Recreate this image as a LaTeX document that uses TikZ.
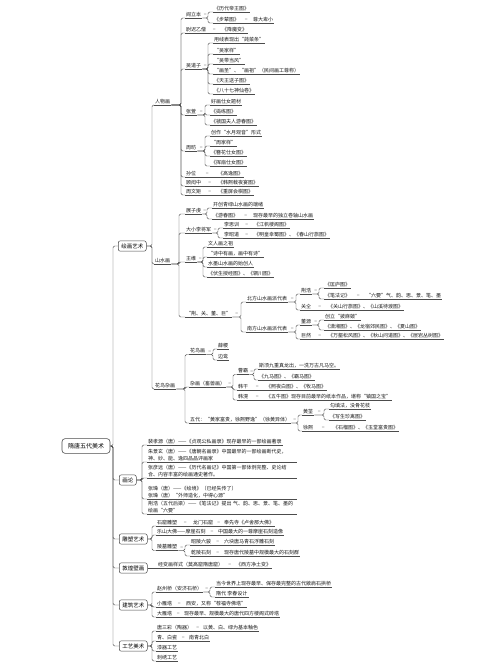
\documentclass[tikz,border=0pt]{standalone}
\usepackage{fontspec}
\setmainfont{Noto Sans CJK SC}
\usetikzlibrary{calc}
\newcommand{\mmL}[4]{\node[lf] (#1) at (#2,#3+4) {#4};}
\newcommand{\mmT}[4]{\node[lftwo] (#1) at (#2,#3) {#4};}
\newcommand{\mmE}[2]{\draw[cn] (#1.south east) -- (#2.south west) node[midway,yshift=2.6pt,eq]{=};}
\newcommand{\mmB}[3]{\draw[cn] (#1.south east) -- (#1.south east -| #3,0) |- (#2.south west);}
\newcommand{\mmQ}[2]{\path (#1.south east) -- (#1.south east -| #2,0) node[midway,yshift=2.6pt,eq]{=};}
\newcommand{\mmX}[3]{\draw[cn] (#1.east) -- (#1.east -| #3,0) |- (#2.south west);}
\begin{document}
\begin{tikzpicture}[x=1pt,y=-1pt,
  ulin/.style={draw=black!70, line width=0.45pt},
  lf/.style={anchor=south west, inner xsep=1pt, inner ysep=1pt,
    font=\fontsize{5}{7}\selectfont, text=black!90,
    append after command={(\tikzlastnode.south west) edge[ulin] (\tikzlastnode.south east)}},
  lftwo/.style={lf, align=left, text width=148pt},
  cn/.style={draw=black!70, line width=0.45pt, rounded corners=1.5pt},
  eq/.style={font=\fontsize{5}{5}\selectfont, text=black!40, inner sep=0pt},
  topbox/.style={draw=black!70, rounded corners=2pt, fill=white, anchor=west,
    font=\fontsize{5.5}{6}\selectfont, inner xsep=3pt, inner ysep=2.6pt, line width=0.5pt},
  rootbox/.style={draw=black!70, rounded corners=3pt, fill=white,
    font=\fontsize{6}{7}\selectfont, inner xsep=6pt, inner ysep=4.5pt, line width=0.6pt}]
\useasboundingbox (0,0) rectangle (500,665);
\fill[white] (0,0) rectangle (500,665);

% root and first level
\node[rootbox] (root) at (86,446) {隋唐五代美术};
\node[topbox] (b1) at (118,246) {绘画艺术};
\node[topbox] (b2) at (119,480) {画论};
\node[topbox] (b3) at (119,539) {雕塑艺术};
\node[topbox] (b4) at (119,568) {敦煌壁画};
\node[topbox] (b5) at (119,605) {建筑艺术};
\node[topbox] (b6) at (119,646) {工艺美术};
\foreach \b in {b1,b2,b3,b4,b5,b6}
  {\draw[cn] (root.east) -- (root.east -| 113,0) |- (\b.west);}

% ===== 绘画艺术
\mmL{rwh}{154}{101}{人物画}
\mmL{ssh}{154}{260}{山水画}
\mmL{hnz}{154}{385}{花鸟杂画}
\foreach \c in {rwh,ssh,hnz} {\mmX{b1}{\c}{152}}

% 人物画
\mmL{ylb}{185}{14}{阎立本}
\mmL{ylbA}{213}{8}{《历代帝王图》}
\mmL{ylbB}{213}{19}{《步辇图》}
\mmL{ylbBa}{252}{19}{尊大卑小}
\mmL{ycys}{185}{29}{尉迟乙僧}
\mmL{ycysA}{221}{29}{《降魔变》}
\mmL{wdz}{185}{65}{吴道子}
\mmL{wdzA}{213}{39}{用线表现出“莼菜条”}
\mmL{wdzB}{213}{50}{“吴家样”}
\mmL{wdzC}{213}{60}{“吴带当风”}
\mmL{wdzD}{213}{70}{“画圣”、“画祖”（民间画工尊称）}
\mmL{wdzE}{213}{80}{《天王送子图》}
\mmL{wdzF}{213}{90}{《八十七神仙卷》}
\mmL{zx}{185}{111}{张萱}
\mmL{zxA}{210}{101}{好画仕女题材}
\mmL{zxB}{210}{111}{《捣练图》}
\mmL{zxC}{210}{121}{《虢国夫人游春图》}
\mmL{zf}{185}{147}{周昉}
\mmL{zfA}{210}{132}{创作“水月观音”形式}
\mmL{zfB}{210}{142}{“周家样”}
\mmL{zfC}{210}{152}{《簪花仕女图》}
\mmL{zfD}{210}{162}{《挥扇仕女图》}
\mmL{sw}{185}{173}{孙位}
\mmL{swA}{217}{173}{《高逸图》}
\mmL{ghz}{185}{182}{顾闳中}
\mmL{ghzA}{217}{182}{《韩熙载夜宴图》}
\mmL{zwj}{185}{191}{周文矩}
\mmL{zwjA}{217}{191}{《重屏会棋图》}
\foreach \c in {ylb,ycys,wdz,zx,zf,sw,ghz,zwj} {\mmB{rwh}{\c}{181}}
\mmQ{ylb}{208}
\foreach \c in {ylbA,ylbB} {\mmB{ylb}{\c}{208}}
\mmE{ylbB}{ylbBa}
\mmE{ycys}{ycysA}
\mmQ{wdz}{208}
\foreach \c in {wdzA,wdzB,wdzC,wdzD,wdzE,wdzF} {\mmB{wdz}{\c}{208}}
\mmQ{zx}{205}
\foreach \c in {zxA,zxB,zxC} {\mmB{zx}{\c}{205}}
\mmQ{zf}{205}
\foreach \c in {zfA,zfB,zfC,zfD} {\mmB{zf}{\c}{205}}
\mmE{sw}{swA}
\mmE{ghz}{ghzA}
\mmE{zwj}{zwjA}

% 山水画
\mmL{zzq}{185}{210}{展子虔}
\mmL{zzqA}{212}{204}{开创青绿山水画的端绪}
\mmL{zzqB}{212}{215}{《游春图》}
\mmL{zzqBa}{252}{215}{现存最早的独立卷轴山水画}
\mmL{dxl}{185}{229}{大小李将军}
\mmL{lsx}{223}{224}{李思训}
\mmL{lsxA}{253}{224}{《江帆楼阁图》}
\mmL{lzd}{223}{234}{李昭道}
\mmL{lzdA}{253}{234}{《明皇幸蜀图》、《春山行旅图》}
\mmL{ww}{185}{258}{王维}
\mmL{wwA}{207}{243}{文人画之祖}
\mmL{wwB}{207}{253}{“诗中有画，画中有诗”}
\mmL{wwC}{207}{263}{水墨山水画的始创人}
\mmL{wwD}{207}{273}{《伏生授经图》、《辋川图》}
\mmL{jg}{185}{313}{“荆、关、董、巨”}
\foreach \c in {zzq,dxl,ww,jg} {\mmB{ssh}{\c}{179}}
\mmQ{zzq}{207}
\foreach \c in {zzqA,zzqB} {\mmB{zzq}{\c}{207}}
\mmE{zzqB}{zzqBa}
\mmQ{dxl}{218}
\foreach \c in {lsx,lzd} {\mmB{dxl}{\c}{218}}
\mmE{lsx}{lsxA}
\mmE{lzd}{lzdA}
\mmQ{ww}{203}
\foreach \c in {wwA,wwB,wwC,wwD} {\mmB{ww}{\c}{203}}

\mmL{bf}{246}{298}{北方山水画派代表}
\mmL{nf}{246}{328}{南方山水画派代表}
\mmQ{jg}{241}
\foreach \c in {bf,nf} {\mmB{jg}{\c}{241}}
\mmL{jh}{300}{290}{荆浩}
\mmL{jhA}{324}{284}{《匡庐图》}
\mmL{jhB}{324}{295}{《笔法记》}
\mmL{jhBa}{365}{295}{“六要”气、韵、思、景、笔、墨}
\mmL{gt}{300}{306}{关仝}
\mmL{gtA}{327}{306}{《关山行旅图》、《山溪待渡图》}
\mmQ{bf}{296}
\foreach \c in {jh,gt} {\mmB{bf}{\c}{296}}
\mmQ{jh}{319}
\foreach \c in {jhA,jhB} {\mmB{jh}{\c}{319}}
\mmE{jhB}{jhBa}
\mmE{gt}{gtA}
\mmL{dy}{300}{321}{董源}
\mmL{dyA}{324}{316}{创立“披麻皴”}
\mmL{dyB}{324}{326}{《潇湘图》、《龙宿郊民图》、《夏山图》}
\mmL{jr}{300}{335}{巨然}
\mmL{jrA}{327}{335}{《万壑松风图》、《秋山问道图》、《层岩丛树图》}
\mmQ{nf}{296}
\foreach \c in {dy,jr} {\mmB{nf}{\c}{296}}
\mmQ{dy}{319}
\foreach \c in {dyA,dyB} {\mmB{dy}{\c}{319}}
\mmE{jr}{jrA}

% 花鸟杂画
\mmL{hnh}{189}{350.5}{花鸟画}
\mmL{xj}{217}{345}{薛稷}
\mmL{bl}{217}{356}{边鸾}
\mmL{zh}{189}{383}{杂画（畜兽画）}
\mmL{cb}{237}{370.5}{曹霸}
\mmL{cbA}{258}{365}{斯须九重真龙出，一洗万古凡马空。}
\mmL{cbB}{258}{376}{《九马图》、《霸马图》}
\mmL{hg}{237}{386}{韩干}
\mmL{hgA}{265}{386}{《照夜白图》、《牧马图》}
\mmL{hh}{237}{396}{韩滉}
\mmL{hhA}{265}{396}{《五牛图》现存目前最早的纸本作品，堪称“镇国之宝”}
\mmL{wd}{189}{419}{五代：“黄家富贵，徐熙野逸”（徐黄异体）}
\mmL{hq}{302}{411}{黄筌}
\mmL{hqA}{329}{405}{勾填法，没骨花枝}
\mmL{hqB}{329}{416}{《写生珍禽图》}
\mmL{xx}{302}{427}{徐熙}
\mmL{xxA}{332}{427}{《石榴图》、《玉堂富贵图》}
\foreach \c in {hnh,zh,wd} {\mmB{hnz}{\c}{185}}
\mmQ{hnh}{213}
\foreach \c in {xj,bl} {\mmB{hnh}{\c}{213}}
\mmQ{zh}{233}
\foreach \c in {cb,hg,hh} {\mmB{zh}{\c}{233}}
\mmQ{cb}{254}
\foreach \c in {cbA,cbB} {\mmB{cb}{\c}{254}}
\mmE{hg}{hgA}
\mmE{hh}{hhA}
\mmQ{wd}{298}
\foreach \c in {hq,xx} {\mmB{wd}{\c}{298}}
\mmQ{hq}{324}
\foreach \c in {hqA,hqB} {\mmB{hq}{\c}{324}}
\mmE{xx}{xxA}

% ===== 画论
\mmL{pxy}{147}{441}{裴孝源（唐）——《贞观公私画录》现存最早的一部绘画著录}
\mmT{zjx}{147}{462}{朱景玄（唐）——《唐朝名画录》中国最早的一部绘画断代史，\\神、妙、能、逸四品品评画家}
\mmT{zyy}{147}{478}{张彦远（唐）——《历代名画记》中国第一部体例完整、史论结\\合、内容丰富的绘画通史著作。}
\mmT{zz}{147}{499}{张璪（唐）——《绘境》（已经失传了）\\张璪（唐）“外师造化，中得心源”}
\mmT{jhl}{147}{514}{荆浩（五代后梁）——《笔法记》提出 气、韵、思、景、笔、墨的\\绘画“六要”}
\foreach \c in {pxy,zjx,zyy,zz,jhl} {\mmX{b2}{\c}{142}}

% ===== 雕塑艺术
\mmL{sk}{156}{522}{石窟雕塑}
\mmL{skA}{192}{522}{龙门石窟}
\mmL{skB}{223}{522}{奉先寺《卢舍那大佛》}
\mmL{ls}{156}{531}{乐山大佛——摩崖石刻}
\mmL{lsA}{217}{531}{中国最大的一尊摩崖石刻造像}
\mmL{lm}{156}{546.5}{陵墓雕塑}
\mmL{zl}{190}{541}{昭陵六骏}
\mmL{zlA}{223}{541}{六块唐马青石浮雕石刻}
\mmL{ql}{190}{552}{乾陵石刻}
\mmL{qlA}{223}{552}{现存唐代陵墓中规模最大的石刻群}
\foreach \c in {sk,ls,lm} {\mmX{b3}{\c}{152}}
\mmE{sk}{skA}
\mmE{skA}{skB}
\mmE{ls}{lsA}
\mmQ{lm}{185}
\foreach \c in {zl,ql} {\mmB{lm}{\c}{185}}
\mmE{zl}{zlA}
\mmE{ql}{qlA}

% ===== 敦煌壁画
\mmL{dhA}{157}{564}{经变画样式（莫高窟隋唐窟）}
\mmL{dhB}{235}{564}{《西方净土变》}
\draw[cn] (b4.east) -- (dhA.south west);
\mmE{dhA}{dhB}

% ===== 建筑艺术
\mmL{zzb}{156}{588}{赵州桥（安济石桥）}
\mmL{zzbA}{215}{583}{当今世界上现存最早、保存最完整的古代敞肩石拱桥}
\mmL{zzbB}{215}{593}{隋代 李春设计}
\mmL{xyt}{156}{603}{小雁塔}
\mmL{xytA}{185}{603}{西安，又称“荐福寺佛塔”}
\mmL{dyt}{156}{613}{大雁塔}
\mmL{dytA}{183}{613}{现存最早、规模最大的唐代四方楼阁式砖塔}
\foreach \c in {zzb,xyt,dyt} {\mmX{b5}{\c}{152}}
\mmQ{zzb}{210}
\foreach \c in {zzbA,zzbB} {\mmB{zzb}{\c}{210}}
\mmE{xyt}{xytA}
\mmE{dyt}{dytA}

% ===== 工艺美术
\mmL{tsc}{156}{627}{唐三彩（陶器）}
\mmL{tscA}{202}{627}{以黄、白、绿为基本釉色}
\mmL{qbc}{156}{637}{青、白瓷}
\mmL{qbcA}{188}{637}{南青北白}
\mmL{qq}{156}{647}{漆器工艺}
\mmL{cx}{156}{657}{刺绣工艺}
\foreach \c in {tsc,qbc,qq,cx} {\mmX{b6}{\c}{152}}
\mmE{tsc}{tscA}
\mmE{qbc}{qbcA}
\end{tikzpicture}
\end{document}
